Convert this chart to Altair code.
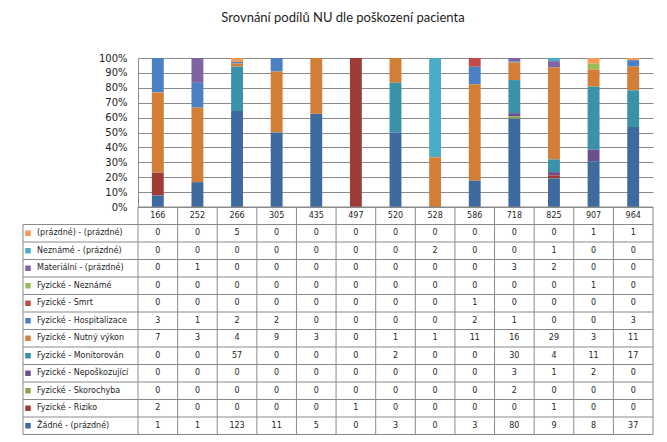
import altair as alt
import pandas as pd

categories = ["166", "252", "266", "305", "435", "497", "520", "528", "586", "718", "825", "907", "964"]

# series in the order of the data table (top to bottom)
series = [
    "(prázdné) - (prázdné)",
    "Neznámé - (prázdné)",
    "Materiální - (prázdné)",
    "Fyzické - Neznámé",
    "Fyzické - Smrt",
    "Fyzické - Hospitalizace",
    "Fyzické - Nutný výkon",
    "Fyzické - Monitorován",
    "Fyzické - Nepoškozující",
    "Fyzické - Skorochyba",
    "Fyzické - Riziko",
    "Žádné - (prázdné)",
]

v_prazdne = [0, 0, 5, 0, 0, 0, 0, 0, 0, 0, 0, 1, 1]
v_nezname = [0, 0, 0, 0, 0, 0, 0, 2, 0, 0, 1, 0, 0]
v_materialni = [0, 1, 0, 0, 0, 0, 0, 0, 0, 3, 2, 0, 0]
v_fyz_nezname = [0, 0, 0, 0, 0, 0, 0, 0, 0, 0, 0, 1, 0]
v_smrt = [0, 0, 0, 0, 0, 0, 0, 0, 1, 0, 0, 0, 0]
v_hospitalizace = [3, 1, 2, 2, 0, 0, 0, 0, 2, 1, 0, 0, 3]
v_nutny = [7, 3, 4, 9, 3, 0, 1, 1, 11, 16, 29, 3, 11]
v_monitorovan = [0, 0, 57, 0, 0, 0, 2, 0, 0, 30, 4, 11, 17]
v_neposkozujici = [0, 0, 0, 0, 0, 0, 0, 0, 0, 3, 1, 2, 0]
v_skorochyba = [0, 0, 0, 0, 0, 0, 0, 0, 0, 2, 0, 0, 0]
v_riziko = [2, 0, 0, 0, 0, 1, 0, 0, 0, 0, 1, 0, 0]
v_zadne = [1, 1, 123, 11, 5, 0, 3, 0, 3, 80, 9, 8, 37]

series_values = [
    v_prazdne, v_nezname, v_materialni, v_fyz_nezname, v_smrt, v_hospitalizace,
    v_nutny, v_monitorovan, v_neposkozujici, v_skorochyba, v_riziko, v_zadne,
]

colors = [
    "#F59A55", "#4BACC6", "#8064A2", "#9BBB59", "#C24B48", "#4C80C4",
    "#D27E36", "#3A92A8", "#6B4F8C", "#8CA64C", "#A03C38", "#3D6A9F",
]

title_text = "Srovnání podílů NU  dle poškození pacienta"

rows = []
for s_i, (s, vals) in enumerate(zip(series, series_values)):
    for c, v in zip(categories, vals):
        rows.append({"series": s, "cat": c, "count": v, "order": len(series) - 1 - s_i})
df = pd.DataFrame(rows)

W = 515
H_PLOT = 149
ROW_H = 17.5
H_TAB = ROW_H * 13
LEFT = -115
GRID = "#8A8A8A"
TXT = "#1E1E1E"
FONT = "DejaVu Sans"

color_scale = alt.Scale(domain=series, range=colors)

bars = alt.Chart(df).mark_bar().encode(
    x=alt.X("cat:N", sort=categories, axis=None,
            scale=alt.Scale(domain=categories, paddingInner=0.7, paddingOuter=0.35)),
    y=alt.Y("count:Q", stack="normalize", scale=alt.Scale(domain=[0, 1]),
            axis=alt.Axis(format=".0%", values=[i / 10 for i in range(11)], grid=True,
                          gridColor=GRID, domainColor=GRID, ticks=False, labelFontSize=10,
                          labelFont=FONT, labelColor=TXT, labelPadding=11, title=None)),
    color=alt.Color("series:N", scale=color_scale, legend=None),
    order=alt.Order("order:Q", sort="ascending"),
).properties(width=W, height=H_PLOT)

row_domain = ["hdr"] + series
yscale = alt.Scale(domain=row_domain, paddingInner=0, paddingOuter=0)
xscale = alt.Scale(domain=categories, paddingInner=0, paddingOuter=0)

hdr_df = pd.DataFrame({"cat": categories, "row": ["hdr"] * len(categories)})
leg_df = pd.DataFrame({"row": series})
cat_df = pd.DataFrame({"cat": categories})
last_cat_df = pd.DataFrame({"cat": [categories[-1]]})
last_row_df = pd.DataFrame({"row": [series[-1]]})
first_row_df = pd.DataFrame({"row": ["hdr"]})

X = lambda **kw: alt.X("cat:N", scale=xscale, axis=None, **kw)
Y = lambda f="row:N", **kw: alt.Y(f, scale=yscale, axis=None, **kw)

vlines = alt.Chart(cat_df).mark_rule(color=GRID).encode(
    x=X(bandPosition=0), y=alt.value(0), y2=alt.value(H_TAB))
vline_end = alt.Chart(last_cat_df).mark_rule(color=GRID).encode(
    x=X(bandPosition=1), y=alt.value(0), y2=alt.value(H_TAB))
vline_left = alt.Chart(last_cat_df).mark_rule(color=GRID).encode(
    x=alt.value(LEFT), y=alt.value(ROW_H), y2=alt.value(H_TAB))
hlines = alt.Chart(leg_df).mark_rule(color=GRID).encode(
    y=Y(bandPosition=0), x=alt.value(LEFT), x2=alt.value(W))
hline_end = alt.Chart(last_row_df).mark_rule(color=GRID).encode(
    y=Y(bandPosition=1), x=alt.value(LEFT), x2=alt.value(W))
hline_top = alt.Chart(first_row_df).mark_rule(color=GRID).encode(
    y=Y(bandPosition=0), x=alt.value(0), x2=alt.value(W))

count_text = alt.Chart(df).mark_text(font=FONT, fontSize=8, color=TXT).encode(
    x=X(), y=Y("series:N"), text="count:Q")
hdr_text = alt.Chart(hdr_df).mark_text(font=FONT, fontSize=8, color=TXT).encode(
    x=X(), y=Y(), text="cat:N")
leg_text = alt.Chart(leg_df).mark_text(font=FONT, fontSize=8, color=TXT, align="left").encode(
    x=alt.value(LEFT + 14), y=Y(), text="row:N")
leg_sq = alt.Chart(leg_df).mark_square(size=30, opacity=1).encode(
    x=alt.value(LEFT + 5), y=Y(),
    color=alt.Color("row:N", scale=color_scale, legend=None))

table = alt.layer(
    vlines, vline_end, vline_left, hlines, hline_end, hline_top,
    count_text, hdr_text, leg_sq, leg_text,
).properties(width=W, height=H_TAB)

chart = alt.vconcat(
    bars, table, spacing=0, bounds="flush",
    title=alt.TitleParams(title_text, font="Lato", fontSize=13, fontWeight="normal",
                          color=TXT, anchor="middle", offset=28, dx=5),
).properties(
    padding={"left": 14, "top": 4, "right": 5, "bottom": 0}
).configure_view(stroke=None)

chart.save("out.html", embed_options={"renderer": "svg", "actions": False})
